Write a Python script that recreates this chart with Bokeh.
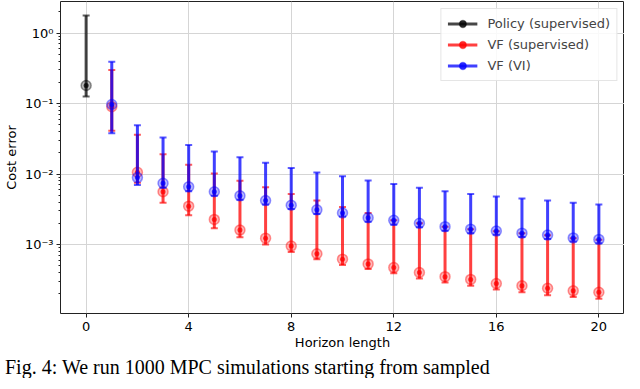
from bokeh.plotting import figure
from bokeh.models import FixedTicker, CustomJSTickFormatter, Legend, LegendItem, Div, ColumnDataSource
from bokeh.layouts import column
from bokeh.embed import file_html
from bokeh.resources import INLINE

# ---- data ----
policy_x = [0]
policy_mid = [0.18]
policy_lo = [0.126]
policy_hi = [1.77]

vf_x = list(range(1, 21))
red_mid = [0.090, 0.0106, 0.0056, 0.0035, 0.00227, 0.0016, 0.00123, 0.00095, 0.00074, 0.00062,
           0.00053, 0.00047, 0.00040, 0.00035, 0.00032, 0.00028, 0.00026, 0.00024, 0.00022, 0.00021]
red_lo = [0.041, 0.0075, 0.0039, 0.0026, 0.0017, 0.00127, 0.0010, 0.00078, 0.00062, 0.00051,
          0.00045, 0.00039, 0.00033, 0.00029, 0.00026, 0.00023, 0.00021, 0.00019, 0.00018, 0.00017]
red_hi = [0.30, 0.036, 0.019, 0.0135, 0.0102, 0.0080, 0.0065, 0.0052, 0.0042, 0.0034,
          0.0028, 0.0022, 0.0020, 0.00178, 0.00164, 0.00154, 0.00144, 0.00135, 0.00123, 0.00117]

blue_mid = [0.097, 0.0089, 0.0074, 0.0066, 0.0056, 0.0049, 0.0042, 0.0036, 0.0031, 0.0028,
            0.0024, 0.0022, 0.0020, 0.00179, 0.00165, 0.00155, 0.00145, 0.00136, 0.00124, 0.00118]
blue_lo = [0.038, 0.0070, 0.0064, 0.0057, 0.0049, 0.0043, 0.0037, 0.0032, 0.0027, 0.0025,
           0.0021, 0.0019, 0.00175, 0.00157, 0.00145, 0.00137, 0.00128, 0.0012, 0.0011, 0.00104]
blue_hi = [0.39, 0.049, 0.033, 0.0257, 0.0208, 0.0173, 0.0144, 0.0122, 0.0105, 0.0093,
           0.0081, 0.0072, 0.0064, 0.0057, 0.0052, 0.0048, 0.0045, 0.0042, 0.0039, 0.0037]

x_ticks = [0, 4, 8, 12, 16, 20]
y_ticks = [1e-3, 1e-2, 1e-1, 1.0]
series_labels = ["Policy (supervised)", "VF (supervised)", "VF (VI)"]
caption = "Fig. 4: We run 1000 MPC simulations starting from sampled"

FONT = "DejaVu Sans"

p = figure(width=624, height=352, x_range=(-1, 21), y_range=(1.05e-4, 2.8),
           y_axis_type="log", output_backend="svg", toolbar_location=None,
           min_border_left=44, min_border_right=0, min_border_top=1, min_border_bottom=2)

p.outline_line_color = "#222222"
p.outline_line_width = 1
p.background_fill_color = "white"
p.border_fill_color = "white"

# axes
p.xaxis.ticker = FixedTicker(ticks=x_ticks)
minor = [m * 10.0 ** e for e in range(-4, 1) for m in range(2, 10)]
p.yaxis.ticker = FixedTicker(ticks=y_ticks, minor_ticks=minor)
p.yaxis.formatter = CustomJSTickFormatter(code="""
const e = Math.round(Math.log10(tick));
const sup = {'-':'\u207B','0':'\u2070','1':'\u00B9','2':'\u00B2','3':'\u00B3','4':'\u2074'};
return '10' + String(e).split('').map(c => sup[c]).join('');
""")
for ax in (p.xaxis[0], p.yaxis[0]):
    ax.axis_line_color = None
    ax.major_tick_line_color = "#222222"
    ax.major_tick_out = 4
    ax.major_tick_in = 0
    ax.major_label_text_font = FONT
    ax.major_label_text_font_size = "13px"
    ax.major_label_text_color = "black"
    ax.axis_label_text_font = FONT
    ax.axis_label_text_font_size = "13px"
    ax.axis_label_text_font_style = "normal"
    ax.axis_label_text_color = "black"
p.xaxis.minor_tick_line_color = None
p.yaxis.minor_tick_line_color = "#222222"
p.yaxis.minor_tick_out = 2
p.yaxis.minor_tick_in = 0
p.xaxis.axis_label = "Horizon length"
p.yaxis.axis_label = "Cost error"
p.xaxis.axis_label_standoff = 1
p.yaxis.axis_label_standoff = 3
p.xaxis.major_label_standoff = 4
p.yaxis.major_label_standoff = 3

p.xgrid.grid_line_color = "#d5d5d5"
p.ygrid.grid_line_color = "#d5d5d5"
p.xgrid.ticker = FixedTicker(ticks=x_ticks)
p.ygrid.ticker = FixedTicker(ticks=y_ticks)


def errorbar(x, mid, lo, hi, color, alpha):
    src = ColumnDataSource(dict(x=x, mid=mid, lo=lo, hi=hi))
    seg = p.segment(x0="x", y0="lo", x1="x", y1="hi", source=src,
                    line_color=color, line_width=3, line_alpha=alpha)
    p.scatter(x="x", y="lo", source=src, marker="dash", size=7,
              line_color=color, line_width=2, line_alpha=alpha * 0.85)
    p.scatter(x="x", y="hi", source=src, marker="dash", size=7,
              line_color=color, line_width=2, line_alpha=alpha * 0.85)
    mk = p.scatter(x="x", y="mid", source=src, marker="circle", size=10,
                   fill_color=color, fill_alpha=0.28, line_color=color,
                   line_alpha=0.4, line_width=1.5)
    dot = p.scatter(x="x", y="mid", source=src, marker="circle", size=5,
                    fill_color=color, fill_alpha=0.75, line_color=None)
    return [seg, mk, dot]


r_pol = errorbar(policy_x, policy_mid, policy_lo, policy_hi, "#000000", 0.72)
r_red = errorbar(vf_x, red_mid, red_lo, red_hi, "#ff0000", 0.75)
r_blue = errorbar(vf_x, blue_mid, blue_lo, blue_hi, "#0000ff", 0.75)

legend = Legend(items=[LegendItem(label=series_labels[0], renderers=r_pol),
                       LegendItem(label=series_labels[1], renderers=r_red),
                       LegendItem(label=series_labels[2], renderers=r_blue)],
                location="top_right")
legend.label_text_font = FONT
legend.label_text_font_size = "13px"
legend.label_height = 17
legend.glyph_height = 17
legend.glyph_width = 30
legend.spacing = 4
legend.padding = 6
legend.margin = 7
legend.label_standoff = 10
legend.border_line_color = "#cccccc"
legend.border_line_width = 1
legend.background_fill_alpha = 0.85
p.add_layout(legend)

cap = Div(text=caption, width=624, height=21,
          styles={"font-family": "'Liberation Serif', serif", "font-size": "20px",
                  "line-height": "21px", "overflow": "hidden", "white-space": "nowrap",
                  "color": "black"})

layout = column(p, cap, spacing=0)

with open("out.html", "w", encoding="utf-8") as f:
    f.write(file_html(layout, INLINE))
